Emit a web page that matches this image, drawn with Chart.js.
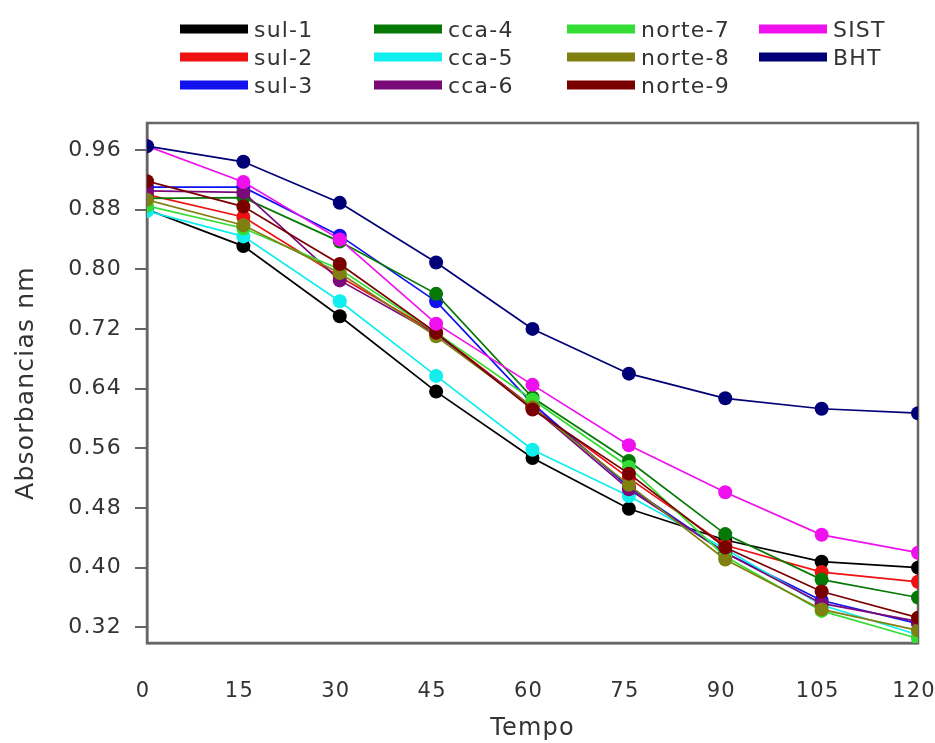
<!DOCTYPE html>
<html>
<head>
<meta charset="utf-8">
<script src="https://cdn.jsdelivr.net/npm/chart.js@4.4.0/dist/chart.umd.min.js"></script>
<style>
  html, body { margin: 0; padding: 0; background: #ffffff; }
  #wrap { width: 935px; height: 743px; position: relative; }
</style>
</head>
<body>
<div id="wrap"><canvas id="c"></canvas></div>
<script>
// ---- data ----
const times = [0, 15, 30, 45, 60, 75, 90, 105, 120];
const xTicks = [0, 15, 30, 45, 60, 75, 90, 105, 120];
const yTicks = [0.32, 0.40, 0.48, 0.56, 0.64, 0.72, 0.80, 0.88, 0.96];

const seriesNames = ['sul-1', 'sul-2', 'sul-3', 'cca-4', 'cca-5', 'cca-6', 'norte-7', 'norte-8', 'norte-9', 'SIST', 'BHT'];
const seriesColors = ['#000000', '#ee1111', '#1111ee', '#067806', '#11eeee', '#7a0a7a', '#33dd33', '#808010', '#7a0000', '#ee11ee', '#000077'];

const sul1   = [0.880, 0.831, 0.737, 0.636, 0.547, 0.479, 0.437, 0.408, 0.400];
const sul2   = [0.900, 0.870, 0.790, 0.715, 0.615, 0.520, 0.430, 0.394, 0.381];
const sul3   = [0.910, 0.910, 0.845, 0.757, 0.620, 0.508, 0.420, 0.356, 0.325];
const cca4   = [0.895, 0.896, 0.837, 0.767, 0.628, 0.543, 0.445, 0.384, 0.360];
const cca5   = [0.878, 0.844, 0.757, 0.657, 0.558, 0.496, 0.425, 0.350, 0.310];
const cca6   = [0.905, 0.903, 0.785, 0.713, 0.615, 0.505, 0.420, 0.352, 0.328];
const norte7 = [0.885, 0.855, 0.800, 0.715, 0.625, 0.535, 0.415, 0.342, 0.305];
const norte8 = [0.893, 0.859, 0.795, 0.710, 0.615, 0.511, 0.411, 0.344, 0.316];
const norte9 = [0.918, 0.884, 0.807, 0.715, 0.612, 0.526, 0.427, 0.368, 0.333];
const sist   = [0.965, 0.917, 0.840, 0.727, 0.645, 0.564, 0.501, 0.444, 0.420];
const bht    = [0.965, 0.944, 0.889, 0.809, 0.720, 0.660, 0.627, 0.613, 0.607];

const seriesValues = [sul1, sul2, sul3, cca4, cca5, cca6, norte7, norte8, norte9, sist, bht];

// ---- build datasets ----
const datasets = seriesNames.map((name, i) => ({
  label: name,
  data: times.map((t, j) => ({ x: t, y: seriesValues[i][j] })),
  borderColor: seriesColors[i],
  backgroundColor: seriesColors[i],
  pointBackgroundColor: seriesColors[i],
  pointBorderColor: seriesColors[i],
  borderWidth: 1.7,
  pointRadius: 7,
  pointBorderWidth: 0,
  tension: 0,
  order: seriesNames.length - i
}));

const TEXT = '#333333';
const AXIS = '#666666';
const SPACING = '1.2px';

const spacingPlugin = {
  id: 'spacing',
  beforeLayout(chart) { chart.ctx.letterSpacing = SPACING; },
  beforeDraw(chart) { chart.ctx.letterSpacing = SPACING; }
};

const framePlugin = {
  id: 'frame',
  beforeDatasetsDraw(chart) {
    const { ctx, chartArea: a } = chart;
    ctx.save();
    ctx.strokeStyle = AXIS;
    ctx.lineWidth = 2.5;
    ctx.strokeRect(a.left, a.top, a.right - a.left, a.bottom - a.top);
    ctx.restore();
  }
};

const legendPlugin = {
  id: 'gridLegend',
  afterDraw(chart) {
    const { ctx } = chart;
    const colX = [180, 374, 567, 759];
    const rowY = [29, 57, 85];
    ctx.save();
    ctx.letterSpacing = SPACING;
    ctx.font = '22px "DejaVu Sans"';
    ctx.textBaseline = 'middle';
    ctx.textAlign = 'left';
    chart.data.datasets.forEach((ds, i) => {
      const col = Math.floor(i / 3), row = i % 3;
      const x = colX[col], y = rowY[row];
      ctx.fillStyle = ds.borderColor;
      ctx.fillRect(x, y - 4.5, 68, 9);
      ctx.fillStyle = TEXT;
      ctx.fillText(ds.label, x + 74, y + 2);
    });
    ctx.restore();
  }
};

Chart.defaults.font.family = '"DejaVu Sans"';
Chart.defaults.font.size = 22;
Chart.defaults.color = TEXT;

new Chart(document.getElementById('c'), {
  type: 'line',
  data: { datasets },
  plugins: [spacingPlugin, framePlugin, legendPlugin],
  options: {
    responsive: true,
    maintainAspectRatio: false,
    animation: false,
    layout: { padding: { top: 123, right: 17, bottom: 0, left: 0 } },
    plugins: { legend: { display: false }, tooltip: { enabled: false } },
    scales: {
      x: {
        type: 'linear',
        min: 0, max: 120,
        afterBuildTicks: s => { s.ticks = xTicks.map(v => ({ value: v })); },
        afterFit: s => { s.height = 100; s.paddingLeft = 0; s.paddingRight = 0; },
        grid: { display: false, drawTicks: false },
        border: { display: true, color: AXIS, width: 2.5 },
        ticks: { padding: 36, color: TEXT, font: { size: 21 }, maxRotation: 0, labelOffset: -4 },
        title: { display: true, text: 'Tempo', color: TEXT, font: { size: 24 }, padding: { top: 0, bottom: 0 } }
      },
      y: {
        type: 'linear',
        min: 0.299, max: 0.996,
        afterBuildTicks: s => { s.ticks = yTicks.map(v => ({ value: v })); },
        afterFit: s => { s.width = 147; s.paddingTop = 0; s.paddingBottom = 0; },
        grid: { display: true, drawOnChartArea: false, drawTicks: true, tickLength: 12, color: AXIS, lineWidth: 2 },
        border: { display: true, color: AXIS, width: 2.5 },
        ticks: { padding: 13, color: TEXT, font: { size: 22 }, callback: v => Number(v).toFixed(2) },
        title: { display: true, text: 'Absorbancias nm', color: TEXT, font: { size: 25 }, padding: { top: 11, bottom: 0 } }
      }
    }
  }
});
</script>
</body>
</html>
